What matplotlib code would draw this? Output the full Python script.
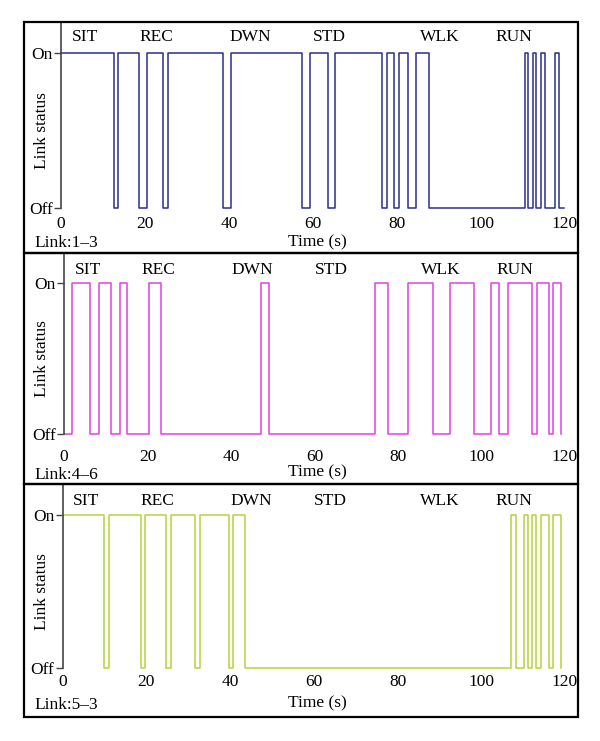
import matplotlib
matplotlib.use("Agg")
from matplotlib import pyplot as plt
from matplotlib.patches import Rectangle

# activity labels and where they sit on the time axis
activites = ["SIT", "REC", "DWN", "STD", "WLK", "RUN"]
pos_activites = [5.7, 22.6, 45.0, 64.0, 90.2, 107.9]

# link 1-3 : starts On, switching times (s)
lien13_debut = 1
lien13_bascules = [12.6, 13.6, 18.5, 20.5, 24.4, 25.5, 38.5, 40.4, 57.3, 59.3,
                   63.5, 65.2, 76.5, 77.5, 79.4, 80.4, 82.5, 84.5, 87.5, 110.4,
                   111.3, 112.3, 113.2, 114.4, 115.3, 117.5, 118.6]
lien13_fin = 119.8

# link 4-6 : starts Off
lien46_debut = 0
lien46_bascules = [1.8, 6.3, 8.3, 11.3, 13.3, 15.2, 20.4, 23.2, 47.1, 49.0,
                   74.5, 77.7, 82.5, 88.5, 92.5, 98.3, 102.3, 104.2, 106.3, 112.2,
                   113.3, 116.1, 117.2, 119.1]
lien46_fin = 119.1

# link 5-3 : starts On
lien53_debut = 1
lien53_bascules = [10.0, 11.0, 18.8, 19.8, 24.8, 25.8, 31.7, 32.8, 39.8, 40.8,
                   43.7, 107.2, 108.2, 110.1, 111.1, 112.1, 113.1, 114.2, 116.1,
                   117.2, 119.1]
lien53_fin = 119.1

noms_liens = ["Link:1\u20133", "Link:4\u20136", "Link:5\u20133"]
couleurs = ["#2b2e8c", "#e040e0", "#b5d33a"]

W, H = 600, 741
plt.rcParams['font.family'] = ['Liberation Serif', 'DejaVu Serif']
plt.rcParams['font.size'] = 12.5
fig = plt.figure(figsize=(W / 100, H / 100), dpi=100)

def fx(px):
  return px / W

def fy(py):
  return 1 - py / H

def escalier(debut, bascules, fin):
  t = [0] + bascules + [fin]
  etat = debut
  y = [etat]
  for b in bascules:
    etat = 1 - etat
    y.append(etat)
  y.append(etat)
  return t, y

# pixel layout of each panel : box top, box bottom, spine x, Off y, labels y's
panneaux = [
  dict(haut=22, bas=253, spine=61, off=208, cat=37, ticks=223, temps=242, lien=243),
  dict(haut=253, bas=484, spine=64, off=434, cat=270, ticks=454, temps=472, lien=475),
  dict(haut=484, bas=717, spine=62.5, off=668, cat=501, ticks=681, temps=703, lien=705),
]
donnees = [(lien13_debut, lien13_bascules, lien13_fin),
           (lien46_debut, lien46_bascules, lien46_fin),
           (lien53_debut, lien53_bascules, lien53_fin)]

px_par_s = 4.2
x_zero = 61
x_droite = 565
on_y = [53, 283, 515]

for k in range(3):
  p = panneaux[k]
  # box around the panel
  fig.patches.append(Rectangle((fx(24), fy(p["bas"])), fx(578) - fx(24), fy(p["haut"]) - fy(p["bas"]),
                               transform=fig.transFigure, fill=False, edgecolor="k", linewidth=1.6))
  ax = fig.add_axes([fx(p["spine"]), fy(p["off"]), fx(x_droite) - fx(p["spine"]), fy(p["haut"]) - fy(p["off"])])
  x0 = (p["spine"] - x_zero) / px_par_s
  haut = 1 + (on_y[k] - p["haut"]) / (p["off"] - on_y[k])
  ax.set_xlim(x0, 120)
  ax.set_ylim(0, haut)
  t, y = escalier(*donnees[k])
  ax.step(t, y, where="post", color=couleurs[k], linewidth=1.1, clip_on=False)
  for spine in ["top", "right", "bottom"]:
    ax.spines[spine].set_visible(False)
  ax.spines["left"].set_color("#444444")
  ax.spines["left"].set_linewidth(1.2)
  ax.set_yticks([0, 1])
  ax.set_yticklabels(["Off", "On"])
  ax.tick_params(axis="y", length=5, width=1, color="#444444", pad=1)
  ax.set_xticks([0, 20, 40, 60, 80, 100, 120])
  ax.tick_params(axis="x", length=0, pad=p["ticks"] - p["off"] - 9)
  ax.patch.set_visible(False)
  # activity names
  for nom, pos in zip(activites, pos_activites):
    ax.text(pos, haut - (p["cat"] - p["haut"]) / (p["off"] - on_y[k]), nom, ha="center", va="center")
  fig.text(fx(42), fy((on_y[k] + p["off"]) / 2), "Link status", rotation=90, ha="center", va="center")
  fig.text(fx(317), fy(p["temps"]), "Time (s)", ha="center", va="center")
  fig.text(fx(34), fy(p["lien"]), noms_liens[k], ha="left", va="center")

fig.savefig("out.png", dpi=100)
